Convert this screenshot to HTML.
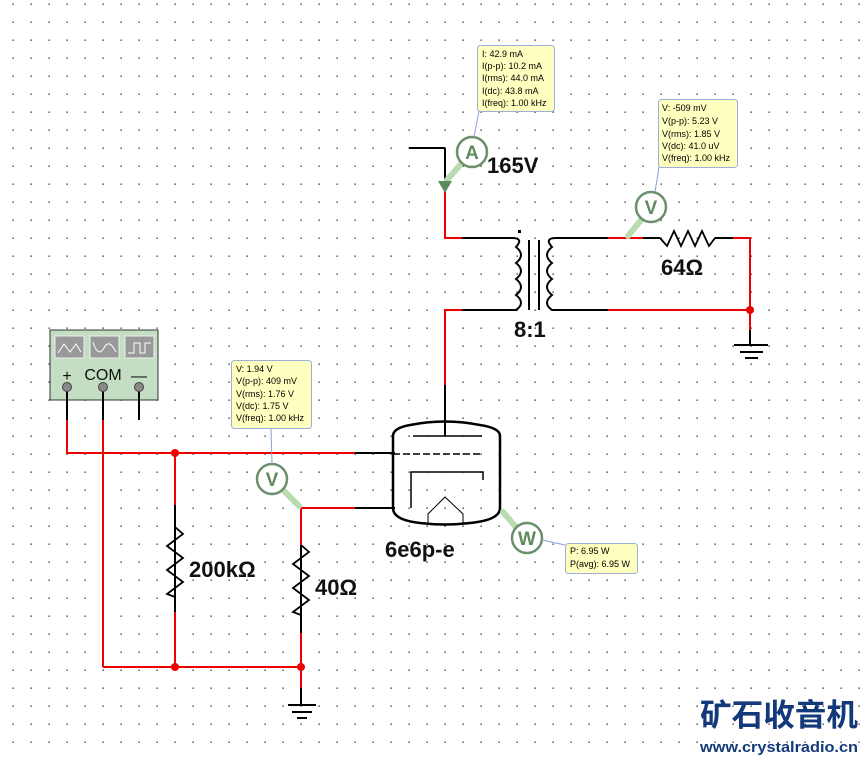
<!DOCTYPE html>
<html><head><meta charset="utf-8"><style>
html,body{margin:0;padding:0;background:#fff;}
svg{display:block;}
.tt{font-family:"Liberation Sans",sans-serif;font-size:9px;fill:#000;}
.lb{font-family:"Liberation Sans",sans-serif;font-weight:bold;font-size:22px;fill:#111;}
</style></head><body>
<svg width="866" height="758" viewBox="0 0 866 758" xmlns="http://www.w3.org/2000/svg">
<defs><pattern id="g" x="12.5" y="3.5" width="18" height="18" patternUnits="userSpaceOnUse"><rect x="0" y="0" width="1.3" height="1.3" fill="#222"/></pattern></defs>
<rect width="866" height="758" fill="url(#g)"/>
<g fill="none" stroke-width="2">
<rect x="50" y="330" width="108" height="70" fill="#c3dec2" stroke="#333" stroke-width="1"/>
<rect x="55" y="336" width="29" height="22" fill="#999" stroke="#eee" stroke-width="1"/>
<rect x="90" y="336" width="29" height="22" fill="#999" stroke="#eee" stroke-width="1"/>
<rect x="125" y="336" width="29" height="22" fill="#999" stroke="#eee" stroke-width="1"/>
<polyline points="58,353 64,344 70,352 76,344 81,352" stroke="#fff" stroke-width="1"/>
<path d="M93,342 Q98,358 104,348 Q109,338 116,352" stroke="#fff" stroke-width="1"/>
<polyline points="128,353 134,353 134,343 140,343 140,353 145,353 145,343 151,343" stroke="#fff" stroke-width="1"/>
<g stroke="#000">
<line x1="67" y1="387" x2="67" y2="420"/><line x1="103" y1="387" x2="103" y2="420"/><line x1="139" y1="387" x2="139" y2="420"/>
<line x1="355" y1="453" x2="395" y2="453"/><line x1="355" y1="508" x2="395" y2="508"/>
<line x1="175" y1="505" x2="175" y2="612"/><line x1="301" y1="545" x2="301" y2="633"/>
<line x1="301" y1="688" x2="301" y2="705"/>
<line x1="288" y1="705" x2="316" y2="705"/><line x1="292" y1="712" x2="312" y2="712"/><line x1="297" y1="718" x2="307" y2="718"/>
<line x1="409" y1="148" x2="445" y2="148"/><line x1="445" y1="148" x2="445" y2="185"/>
<line x1="462" y1="238" x2="512" y2="238"/><line x1="462" y1="310" x2="512" y2="310"/>
<line x1="445" y1="385" x2="445" y2="436"/>
<line x1="556" y1="238" x2="608" y2="238"/><line x1="556" y1="310" x2="608" y2="310"/>
<line x1="643" y1="238" x2="660" y2="238"/><line x1="715" y1="238" x2="733" y2="238"/>
<line x1="750" y1="330" x2="750" y2="345"/>
<line x1="734" y1="345" x2="768" y2="345"/><line x1="740" y1="352" x2="763" y2="352"/><line x1="745" y1="358" x2="758" y2="358"/>
</g>
<g stroke="#000" stroke-width="1.8">
<polyline points="175,527 183,534 167,546 183,558 167,570 183,582 167,594 175,597"/>
<polyline points="301,545 309,552 293,564 309,576 293,588 309,600 293,612 301,615"/>
<polyline points="660,238 667,246 674,231 681,246 688,231 695,246 702,231 709,246 715,238"/>
</g>
<g stroke="#e00">
<polyline points="67,420 67,453 355,453"/>
<line x1="103" y1="420" x2="103" y2="667"/>
<line x1="103" y1="667" x2="301" y2="667"/>
<line x1="175" y1="453" x2="175" y2="505"/><line x1="175" y1="612" x2="175" y2="667"/>
<polyline points="355,508 301,508 301,545"/>
<line x1="301" y1="633" x2="301" y2="688"/>
<polyline points="445,190 445,238 462,238"/>
<polyline points="462,310 445,310 445,385"/>
<line x1="608" y1="238" x2="643" y2="238"/>
<polyline points="733,238 750,238 750,330"/>
<line x1="608" y1="310" x2="750" y2="310"/>
</g>
<g fill="#e00" stroke="none">
<circle cx="175" cy="453" r="4"/><circle cx="175" cy="667" r="4"/><circle cx="301" cy="667" r="4"/><circle cx="750" cy="310" r="4"/>
</g>
<g fill="#888" stroke="#444" stroke-width="1">
<circle cx="67" cy="387" r="4.5"/><circle cx="103" cy="387" r="4.5"/><circle cx="139" cy="387" r="4.5"/>
</g>
<g stroke="#000" stroke-width="2">
<path d="M512,238 Q524,238 516,247 Q526,255 516,263 Q526,271 516,279 Q526,287 516,295 Q526,303 516,310 L512,310"/>
<path d="M556,238 Q544,238 552,247 Q542,255 552,263 Q542,271 552,279 Q542,287 552,295 Q542,303 552,310 L556,310"/>
<line x1="529" y1="240" x2="529" y2="310"/><line x1="539" y1="240" x2="539" y2="310"/>
</g>
<rect x="518" y="230" width="3" height="3" fill="#000"/>
<path d="M393,463 L393,436 Q393,428 410,425 Q445,418 480,425 Q500,428 500,436 L500,508 Q500,520 470,523 Q445,526 420,523 Q393,520 393,508 Z" stroke="#000" stroke-width="2.5"/>
<line x1="413" y1="436" x2="482" y2="436" stroke="#000" stroke-width="1.5"/>
<line x1="393" y1="454" x2="482" y2="454" stroke="#000" stroke-width="1.5" stroke-dasharray="7,3"/>
<polyline points="411,508 411,472 483,472 483,480" stroke="#000" stroke-width="1.5"/>
<polyline points="428,524 428,514 445,497 463,514 463,524" stroke="#000" stroke-width="1"/>
<g stroke="#b8dcb0" stroke-width="6" stroke-linecap="round">
<line x1="460" y1="165" x2="447" y2="180"/>
<line x1="641" y1="220" x2="628" y2="236"/>
<line x1="284" y1="491" x2="299" y2="506"/>
<line x1="503" y1="512" x2="515" y2="526"/>
</g>
<polygon points="438,181 452,181 445,193" fill="#5a8a5a"/>
<g stroke="#6a8f6a" stroke-width="2.5" fill="#fff">
<circle cx="472" cy="152" r="15"/><circle cx="651" cy="207" r="15"/><circle cx="272" cy="479" r="15"/><circle cx="527" cy="538" r="15"/>
</g>
<g stroke="#8aa0e0" stroke-width="1">
<line x1="479" y1="111" x2="474" y2="137"/><line x1="659" y1="167" x2="655" y2="192"/>
<line x1="271" y1="428" x2="272" y2="464"/><line x1="542" y1="540" x2="565" y2="545"/>
</g>
<g fill="#ffffc0" stroke="#9ab0d8" stroke-width="1">
<rect x="477.5" y="45.5" width="77" height="66" rx="3"/>
<rect x="658.5" y="99.5" width="79" height="68" rx="3"/>
<rect x="231.5" y="360.5" width="80" height="68" rx="3"/>
<rect x="565.5" y="543.5" width="72" height="30" rx="3"/>
</g>
</g>
<g class="tt">
<text x="482" y="57">I: 42.9 mA</text><text x="482" y="69">I(p-p): 10.2 mA</text><text x="482" y="81">I(rms): 44.0 mA</text><text x="482" y="94">I(dc): 43.8 mA</text><text x="482" y="106">I(freq): 1.00 kHz</text>
<text x="662" y="111">V: -509 mV</text><text x="662" y="124">V(p-p): 5.23 V</text><text x="662" y="137">V(rms): 1.85 V</text><text x="662" y="149">V(dc): 41.0 uV</text><text x="662" y="161">V(freq): 1.00 kHz</text>
<text x="236" y="372">V: 1.94 V</text><text x="236" y="384">V(p-p): 409 mV</text><text x="236" y="397">V(rms): 1.76 V</text><text x="236" y="409">V(dc): 1.75 V</text><text x="236" y="421">V(freq): 1.00 kHz</text>
<text x="570" y="554">P: 6.95 W</text><text x="570" y="567">P(avg): 6.95 W</text>
</g>
<g font-family="Liberation Sans,sans-serif" font-size="19" fill="#5e8a5e" font-weight="bold" text-anchor="middle">
<text x="472" y="159">A</text><text x="651" y="214">V</text><text x="272" y="486">V</text><text x="527" y="545">W</text>
</g>
<g font-family="Liberation Sans,sans-serif" font-size="16" fill="#111" text-anchor="middle">
<text x="67" y="381">+</text><text x="103" y="380">COM</text><text x="139" y="381">—</text>
</g>
<text class="lb" x="487" y="173">165V</text>
<text class="lb" x="661" y="275">64Ω</text>
<text class="lb" x="514" y="337">8:1</text>
<text class="lb" x="385" y="557">6e6p-e</text>
<text class="lb" x="189" y="577">200kΩ</text>
<text class="lb" x="315" y="595">40Ω</text>
<text x="700" y="726" font-family="Liberation Sans,'Noto Sans CJK SC',sans-serif" font-weight="bold" font-size="31" fill="#14397a" textLength="158" lengthAdjust="spacingAndGlyphs">矿石收音机</text>
<text x="700" y="752" font-family="Liberation Sans,sans-serif" font-weight="bold" font-size="15" fill="#14397a" textLength="158" lengthAdjust="spacingAndGlyphs">www.crystalradio.cn</text>
</svg>
</body></html>
